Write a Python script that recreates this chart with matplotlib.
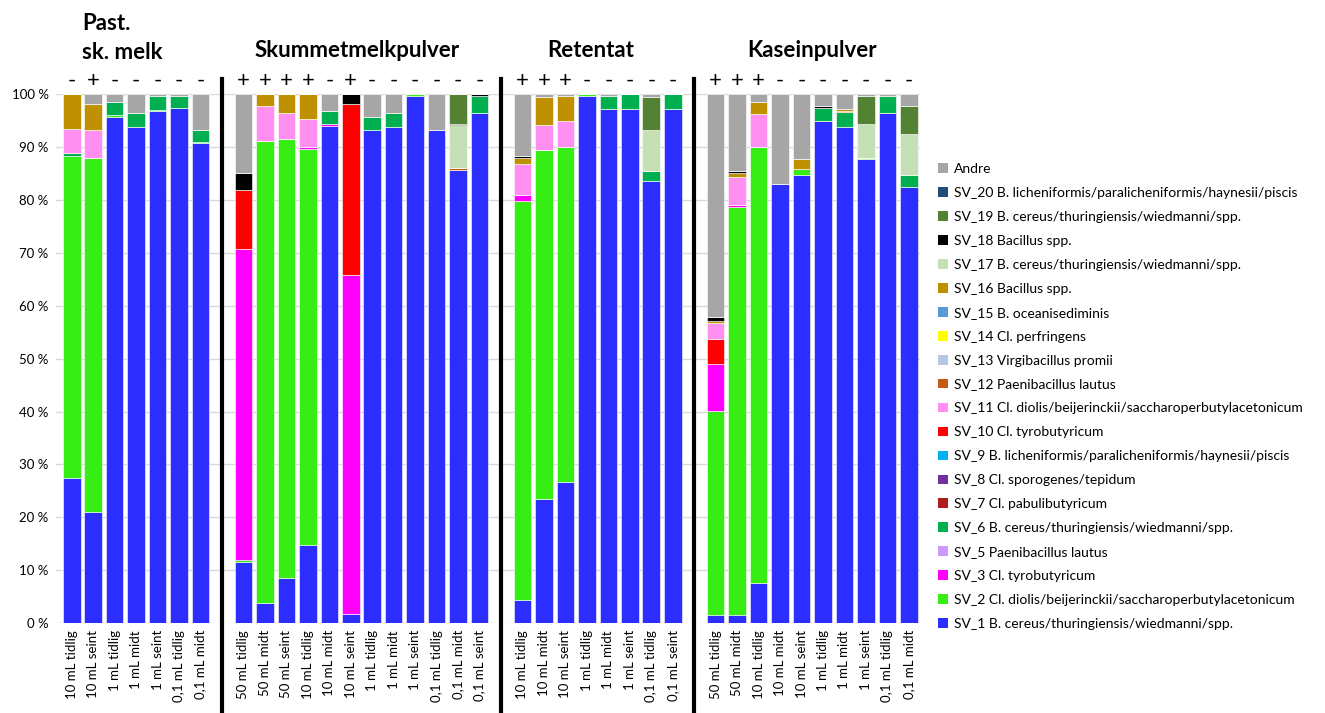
import numpy as np
import matplotlib
matplotlib.use('Agg')
import matplotlib.pyplot as plt
from matplotlib.patches import Patch

plt.rcParams['font.family'] = ['Lato', 'DejaVu Sans']

groups = ['Past.\nsk. melk', 'Skummetmelkpulver', 'Retentat', 'Kaseinpulver']
labels_g1 = ['10 mL tidlig', '10 mL seint', '1 mL tidlig', '1 mL midt', '1 mL seint',
             '0,1 mL tidlig', '0,1 mL midt']
labels_g2 = ['50 mL tidlig', '50 mL midt', '50 mL seint', '10 mL tidlig', '10 mL midt',
             '10 mL seint', '1 mL tidlig', '1 mL midt', '1 mL seint', '0,1 mL tidlig',
             '0,1 mL midt', '0,1 mL seint']
labels_g3 = ['10 mL tidlig', '10 mL midt', '10 mL seint', '1 mL tidlig', '1 mL midt',
             '1 mL seint', '0,1 mL tidlig', '0,1 mL seint']
labels_g4 = ['50 mL tidlig', '50 mL midt', '10 mL tidlig', '10 mL midt', '10 mL seint',
             '1 mL tidlig', '1 mL midt', '1 mL seint', '0,1 mL tidlig', '0,1 mL midt']
signs = ['-', '+', '-', '-', '-', '-', '-',
         '+', '+', '+', '+', '-', '+', '-', '-', '-', '-', '-', '-',
         '+', '+', '+', '-', '-', '-', '-', '-',
         '+', '+', '+', '-', '-', '-', '-', '-', '-', '-']

# andel (%) per bar, gruppe for gruppe
sv1 = [27.5, 21.0, 95.7, 93.7, 96.8, 97.3, 90.8,
       11.5, 3.8, 8.6, 14.7, 94.0, 1.8, 93.3, 93.7, 99.6, 93.2, 85.7, 96.5,
       4.3, 23.4, 26.7, 99.7, 97.2, 97.2, 83.6, 97.2,
       1.5, 1.5, 7.6, 83.1, 84.7, 94.9, 93.7, 87.7, 96.5, 82.4]
sv2 = [60.8, 67.0, 0.3, 0, 0.2, 0, 0.2,
       0.4, 87.3, 83.0, 74.9, 0, 0, 0, 0, 0.4, 0, 0, 0,
       75.5, 66.1, 63.3, 0.3, 0, 0, 0, 0,
       38.6, 77.1, 82.4, 0, 1.2, 0, 0, 0.3, 0, 0]
sv3 = [0, 0, 0, 0, 0, 0, 0,
       58.9, 0, 0, 0.4, 0.4, 64.0, 0, 0, 0, 0, 0, 0,
       1.2, 0, 0, 0, 0, 0, 0, 0,
       8.9, 0.4, 0, 0, 0, 0, 0, 0, 0, 0]
sv5 = [0] * 37
sv6 = [0.5, 0, 2.6, 2.8, 2.7, 2.3, 2.3,
       0, 0, 0, 0, 2.4, 0, 2.4, 2.8, 0, 0, 0, 3.1,
       0, 0, 0, 0, 2.4, 2.8, 1.9, 2.8,
       0, 0, 0, 0, 0, 2.5, 2.9, 0, 3.1, 2.3]
sv7 = [0] * 37
sv8 = [0] * 37
sv9 = [0] * 37
sv10 = [0, 0, 0, 0, 0, 0, 0,
        11.1, 0, 0, 0, 0, 32.3, 0, 0, 0, 0, 0, 0,
        0, 0, 0, 0, 0, 0, 0, 0,
        4.8, 0, 0, 0, 0, 0, 0, 0, 0, 0]
sv11 = [4.7, 5.2, 0, 0, 0, 0, 0,
        0, 6.7, 4.9, 5.3, 0, 0, 0, 0, 0, 0, 0, 0,
        5.7, 4.6, 4.9, 0, 0, 0, 0, 0,
        3.0, 5.4, 6.2, 0, 0, 0, 0, 0, 0, 0]
sv12 = [0, 0, 0, 0, 0, 0, 0,
        0, 0, 0, 0, 0, 0, 0, 0, 0, 0, 0.4, 0,
        0, 0, 0, 0, 0, 0, 0, 0,
        0, 0, 0, 0, 0, 0, 0.2, 0, 0, 0]
sv13 = [0] * 37
sv14 = [0] * 37
sv15 = [0] * 37
sv16 = [6.5, 5.0, 0, 0, 0, 0, 0,
        0, 2.2, 3.5, 4.7, 0, 0, 0, 0, 0, 0, 0, 0,
        1.2, 5.3, 4.7, 0, 0, 0, 0, 0,
        0.3, 0.7, 2.4, 0, 1.8, 0, 0.4, 0, 0, 0]
sv17 = [0, 0, 0, 0, 0, 0, 0,
        0, 0, 0, 0, 0, 0, 0, 0, 0, 0, 8.0, 0,
        0, 0, 0, 0, 0, 0, 7.7, 0,
        0, 0, 0, 0, 0, 0, 0, 6.4, 0, 7.7]
sv18 = [0, 0, 0, 0, 0, 0, 0,
        3.2, 0, 0, 0, 0, 1.9, 0, 0, 0, 0, 0.3, 0.4,
        0.4, 0, 0, 0, 0, 0, 0, 0,
        0.8, 0.4, 0, 0, 0, 0.3, 0, 0, 0, 0]
sv19 = [0, 0, 0, 0, 0, 0, 0,
        0, 0, 0, 0, 0, 0, 0, 0, 0, 0, 5.6, 0,
        0, 0, 0, 0, 0, 0, 6.2, 0,
        0, 0, 0, 0, 0, 0, 0, 5.2, 0, 5.4]
sv20 = [0] * 37
andre = [0, 1.8, 1.4, 3.5, 0.3, 0.4, 6.7,
         14.9, 0, 0, 0, 3.2, 0, 4.3, 3.5, 0, 6.8, 0, 0,
         11.7, 0.6, 0.4, 0, 0.4, 0, 0.6, 0,
         42.1, 14.5, 1.4, 16.9, 12.3, 2.3, 2.8, 0.4, 0.4, 2.2]

series = [
    ('SV_1 B. cereus/thuringiensis/wiedmanni/spp.', sv1, '#2B2EFF'),
    ('SV_2 Cl. diolis/beijerinckii/saccharoperbutylacetonicum', sv2, '#36EE14'),
    ('SV_3 Cl. tyrobutyricum', sv3, '#FF00FF'),
    ('SV_5 Paenibacillus lautus', sv5, '#CC99FF'),
    ('SV_6 B. cereus/thuringiensis/wiedmanni/spp.', sv6, '#00B050'),
    ('SV_7 Cl. pabulibutyricum', sv7, '#B01C1C'),
    ('SV_8 Cl. sporogenes/tepidum', sv8, '#7030A0'),
    ('SV_9 B. licheniformis/paralicheniformis/haynesii/piscis', sv9, '#00B0F0'),
    ('SV_10 Cl. tyrobutyricum', sv10, '#FF0000'),
    ('SV_11 Cl. diolis/beijerinckii/saccharoperbutylacetonicum', sv11, '#FF8FF0'),
    ('SV_12 Paenibacillus lautus', sv12, '#C55A11'),
    ('SV_13 Virgibacillus promii', sv13, '#B4C7E7'),
    ('SV_14 Cl. perfringens', sv14, '#FFFF00'),
    ('SV_15 B. oceanisediminis', sv15, '#5B9BD5'),
    ('SV_16 Bacillus spp.', sv16, '#BF9000'),
    ('SV_17 B. cereus/thuringiensis/wiedmanni/spp.', sv17, '#C5E0B4'),
    ('SV_18 Bacillus spp.', sv18, '#000000'),
    ('SV_19 B. cereus/thuringiensis/wiedmanni/spp.', sv19, '#548235'),
    ('SV_20 B. licheniformis/paralicheniformis/haynesii/piscis', sv20, '#1F4E79'),
    ('Andre', andre, '#A6A6A6'),
]

# plassering: en tom plass mellom gruppene (der skillelinjen går)
starts = [0, 8, 21, 30]
group_labels = [labels_g1, labels_g2, labels_g3, labels_g4]
x = np.concatenate([np.arange(s, s + len(l)) for s, l in zip(starts, group_labels)])
xlabels = sum(group_labels, [])

fig = plt.figure(figsize=(13.25, 7.13), dpi=100)
ax = fig.add_axes([0.042, 0.126, 0.652, 0.742])

bottom = np.zeros(len(x))
for name, vals, col in series:
    vals = np.array(vals, dtype=float)
    ax.bar(x, vals, 0.82, bottom=bottom, color=col, edgecolor='white', linewidth=0.4, zorder=3)
    bottom += vals

ax.set_xlim(-0.75, 39.5)
ax.set_ylim(0, 100)
ax.set_yticks(np.arange(0, 101, 10))
ax.set_yticklabels(['%d %%' % v for v in range(0, 101, 10)], fontsize=9.5)
ax.set_xticks(x)
ax.set_xticklabels(xlabels, rotation=90, fontsize=9.5)
ax.tick_params(length=0, pad=5)
ax.grid(axis='y', color='#D9D9D9', linewidth=1, zorder=0)
for s in ax.spines.values():
    s.set_visible(False)

for xi, sg in zip(x, signs):
    ax.text(xi, 102.5, sg, ha='center', va='center', fontsize=16, clip_on=False)

for sep in [7, 20, 29]:
    ax.axvline(sep, ymin=-0.175, ymax=1.028, color='black', linewidth=3, clip_on=False, zorder=4)

ax.text(0.5, 110.6, groups[0], ha='left', va='center', fontsize=16, fontweight='bold',
        linespacing=1.45)
ax.text(13.3, 108.3, groups[1], ha='center', va='center', fontsize=16, fontweight='bold')
ax.text(24.2, 108.3, groups[2], ha='center', va='center', fontsize=16, fontweight='bold')
ax.text(34.5, 108.3, groups[3], ha='center', va='center', fontsize=16, fontweight='bold')

handles = [Patch(facecolor=c, label=n) for n, v, c in series[::-1]]
fig.legend(handles=handles, loc='center left', bbox_to_anchor=(0.703, 0.444), frameon=False,
           fontsize=10, handlelength=0.7, handleheight=0.7, handletextpad=0.4, labelspacing=0.86,
           borderpad=0)

plt.savefig('out.png')
